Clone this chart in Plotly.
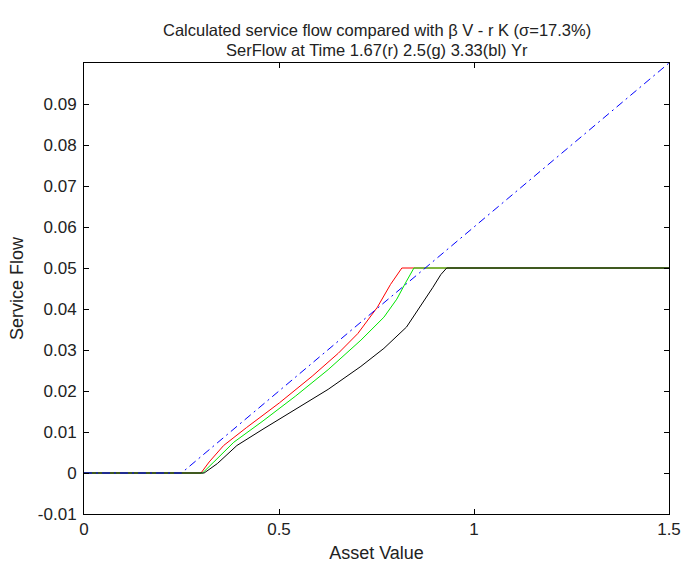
import plotly.graph_objects as go

# Asset value grid points and service flow for each horizon
v_red = [0.0, 0.300, 0.321, 0.358, 0.417, 0.501, 0.585, 0.652, 0.702, 0.752, 0.786, 0.815, 1.5]
f_red = [0.0, 0.0, 0.0027, 0.0067, 0.0111, 0.0171, 0.0236, 0.0292, 0.0340, 0.0404, 0.0460, 0.0500, 0.0500]

v_green = [0.0, 0.304, 0.333, 0.384, 0.459, 0.543, 0.626, 0.710, 0.769, 0.802, 0.827, 0.846, 1.5]
f_green = [0.0, 0.0, 0.0027, 0.0075, 0.0127, 0.0188, 0.0252, 0.0324, 0.0380, 0.0424, 0.0468, 0.0500, 0.0500]

v_black = [0.0, 0.308, 0.342, 0.392, 0.459, 0.543, 0.626, 0.710, 0.769, 0.827, 0.861, 0.894, 0.915, 0.930, 1.5]
f_black = [0.0, 0.0, 0.0023, 0.0067, 0.0107, 0.0155, 0.0204, 0.0260, 0.0304, 0.0356, 0.0404, 0.0452, 0.0484, 0.0500, 0.0500]

# beta*V - r*K reference line
v_blue = [0.0, 0.25, 1.5]
f_blue = [0.0, 0.0, 0.1]

x_ticks = [0, 0.5, 1, 1.5]
x_labels = ["0", "0.5", "1", "1.5"]
y_ticks = [-0.01, 0, 0.01, 0.02, 0.03, 0.04, 0.05, 0.06, 0.07, 0.08, 0.09]
y_labels = ["-0.01", "0", "0.01", "0.02", "0.03", "0.04", "0.05", "0.06", "0.07", "0.08", "0.09"]

title_lines = [
    "Calculated service flow compared with β V - r K (σ=17.3%)",
    "SerFlow at Time 1.67(r) 2.5(g) 3.33(bl) Yr",
]

FONT = "Liberation Sans, Arial, sans-serif"
TEXT = "#222222"

fig = go.Figure()
fig.add_trace(go.Scatter(x=v_red, y=f_red, mode="lines",
                         line=dict(color="#ff0000", width=1)))
fig.add_trace(go.Scatter(x=v_green, y=f_green, mode="lines",
                         line=dict(color="#00e600", width=1)))
fig.add_trace(go.Scatter(x=v_black, y=f_black, mode="lines",
                         line=dict(color="#000000", width=1)))
fig.add_trace(go.Scatter(x=v_blue, y=f_blue, mode="lines",
                         line=dict(color="#0000ff", width=1, dash="8px,4px,2px,4px")))

axis_common = dict(
    showline=True, linecolor="#000000", linewidth=1, mirror="ticks",
    ticks="inside", ticklen=5, tickwidth=1, tickcolor="#000000",
    showgrid=False, zeroline=False,
    tickfont=dict(family=FONT, size=17, color=TEXT),
)

fig.update_xaxes(range=[0, 1.5], tickvals=x_ticks, ticktext=x_labels,
                 title=dict(text="Asset Value", font=dict(family=FONT, size=18, color=TEXT),
                            standoff=7),
                 **axis_common)
fig.update_yaxes(range=[-0.01, 0.1], tickvals=y_ticks, ticktext=y_labels,
                 ticklabelstandoff=3,
                 title=dict(text="Service Flow", font=dict(family=FONT, size=18, color=TEXT),
                            standoff=9),
                 **axis_common)

# Two-line title centred over the plotting area
for shift, line in zip([33, 13], title_lines):
    fig.add_annotation(
        text=line, xref="paper", x=0.5, xanchor="center",
        yref="paper", y=1, yanchor="middle", yshift=shift,
        showarrow=False, font=dict(family=FONT, size=16.5, color=TEXT),
    )

fig.update_layout(
    width=692, height=570,
    margin=dict(l=84, r=11, t=63, b=49),
    paper_bgcolor="#ffffff", plot_bgcolor="#ffffff",
    showlegend=False,
)

fig.write_html("out.html")
